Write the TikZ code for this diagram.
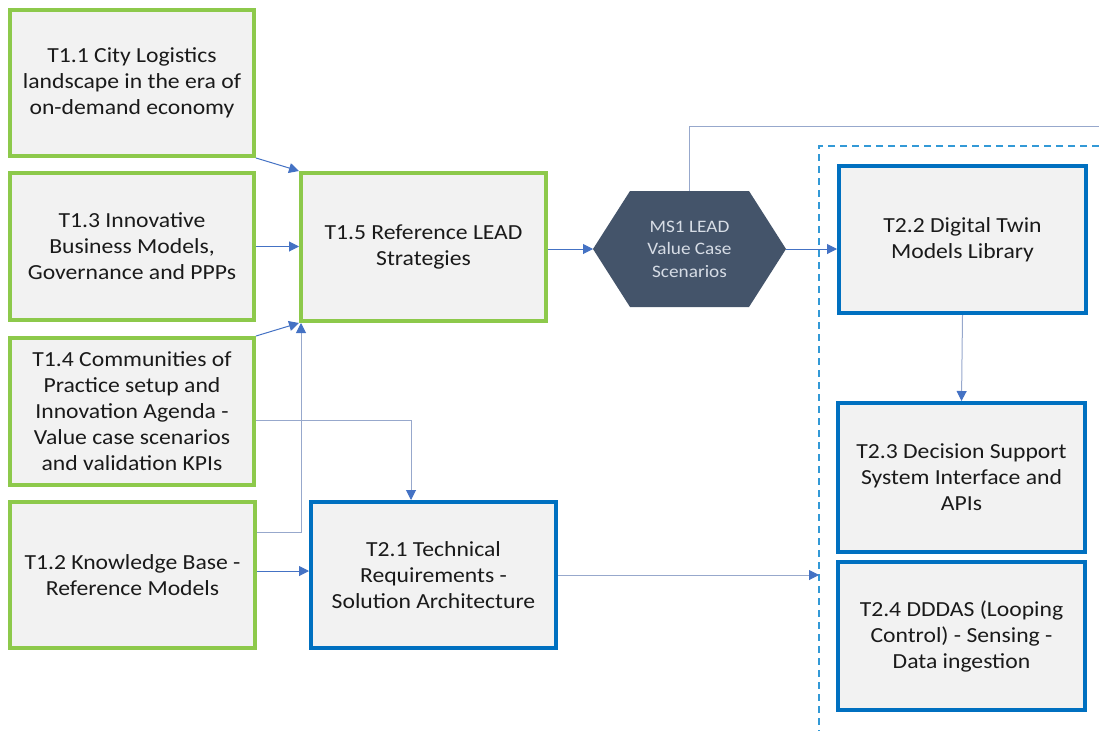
\documentclass[tikz,border=0pt]{standalone}
\usepackage{fontspec}
\setmainfont{Carlito}[FakeStretch=1.1]
\usetikzlibrary{arrows.meta,calc}
\definecolor{boxgreen}{HTML}{8DC94B}
\definecolor{boxblue}{HTML}{0070C0}
\definecolor{boxfill}{HTML}{F2F2F2}
\definecolor{hexfill}{HTML}{44546A}
\definecolor{hextext}{HTML}{D6DCE5}
\definecolor{arrblue}{HTML}{4472C4}
\definecolor{linegray}{HTML}{97A8CC}
\definecolor{dashblue}{HTML}{3399D6}
\definecolor{txt}{HTML}{1A1A1A}
\begin{document}
\begin{tikzpicture}[x=1pt,y=-1pt,
  taskbox/.style={fill=boxfill, line width=4pt, align=center, inner sep=0pt,
    text=txt, font=\fontsize{21.5}{26}\selectfont},
  greenbox/.style={taskbox, draw=boxgreen},
  bluebox/.style={taskbox, draw=boxblue},
  wh/.style 2 args={minimum width=#1, minimum height=#2},
  arr/.style={draw=arrblue, line width=1pt, -{Triangle[length=10pt,width=10pt,color=arrblue]}},
  grayarr/.style={arr, draw=linegray},
  plainline/.style={draw=linegray, line width=1pt},
  dashline/.style={draw=dashblue, line width=2pt, dash pattern=on 7pt off 5pt},
  hexnode/.style={inner sep=0pt, outer sep=0pt, fill=white, align=center,
    text=hextext, font=\fontsize{17.5}{22.5}\selectfont,
    path picture={\fill[hexfill] (path picture bounding box.west)
      -- ($(path picture bounding box.north west)+(37,0)$)
      -- ($(path picture bounding box.north east)+(-37,0)$)
      -- (path picture bounding box.east)
      -- ($(path picture bounding box.south east)+(-37,0)$)
      -- ($(path picture bounding box.south west)+(37,0)$) -- cycle;}}
]
\useasboundingbox (0,0) rectangle (1099,731);

% dashed group frame
\coordinate (dA) at (1099,146);
\coordinate (dB) at (819,146);
\coordinate (dC) at (819,731);
\draw[dashline] (dA) -- (dB) -- (dC);

\node[greenbox, wh={244pt}{146pt}] (t11) at (132,83) {T1.1 City Logistics\\landscape in the era of\\on-demand economy};
\node[greenbox, wh={244pt}{147pt}] (t13) at (132,246.5) {T1.3 Innovative\\Business Models,\\Governance and PPPs};
\node[greenbox, wh={245pt}{148pt}] (t15) at (423.5,247) {T1.5 Reference LEAD\\Strategies};
\node[greenbox, wh={244pt}{147pt}] (t14) at (132,411.5) {T1.4 Communities of\\Practice setup and\\Innovation Agenda -\\Value case scenarios\\and validation KPIs};
\node[greenbox, wh={245pt}{146pt}] (t12) at (132.5,575) {T1.2 Knowledge Base -\\Reference Models};
\node[bluebox, wh={245pt}{146pt}] (t21) at (433.5,575) {T2.1 Technical\\Requirements -\\Solution Architecture};
\node[hexnode, wh={193pt}{116pt}] (hex) at (689.5,249) {MS1 LEAD\\Value Case\\Scenarios};
\node[bluebox, wh={247pt}{147pt}] (t22) at (962.5,239.5) {T2.2 Digital Twin\\Models Library};
\node[bluebox, wh={247pt}{149pt}] (t23) at (961.5,477.5) {T2.3 Decision Support\\System Interface and\\APIs};
\node[bluebox, wh={247pt}{148pt}] (t24) at (961.5,636) {T2.4 DDDAS (Looping\\Control) - Sensing -\\Data ingestion};

% helper coordinates
\coordinate (y532) at (0,532);
\coordinate (y420) at (0,420);
\coordinate (y571) at (0,571);
\coordinate (y575) at (0,575);
\coordinate (topend) at (1099,126);
\coordinate (d24) at (819,575);

% connectors
\draw[arr] (t11.south east) -- (t15.north west);
\draw[arr] (t13.east) -- (t13.east -| t15.west);
\draw[arr] (t14.north east) -- (t15.south west);
\draw[grayarr] (t12.east |- y532) -| ([xshift=2pt]t15.south west);
\draw[grayarr] (t14.east |- y420) -| ([xshift=-22.5pt]t21.north);
\draw[arr] (t12.east |- y571) -- (t21.west |- y571);
\draw[arr] (t15.east |- hex.west) -- (hex.west);
\draw[arr] (hex.east) -- (hex.east -| t22.west);
\draw[grayarr] (t22.south) -- (t23.north);
\draw[grayarr] (t21.east |- y575) -- (d24);
\draw[plainline] (hex.north) |- (topend);
\end{tikzpicture}
\end{document}
